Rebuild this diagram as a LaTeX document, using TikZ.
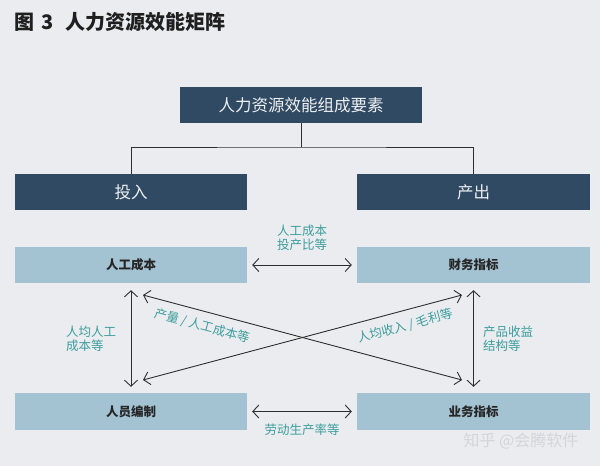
\documentclass[tikz,border=0pt]{standalone}
\usepackage{fontspec}
\setmainfont{Noto Sans CJK SC}
\usetikzlibrary{arrows.meta}
\definecolor{bg}{HTML}{EBECF0}
\definecolor{darkb}{HTML}{2F4A62}
\definecolor{lightb}{HTML}{A3C2D2}
\definecolor{teal}{HTML}{3C9E9C}
\definecolor{arrc}{HTML}{2E2E2E}
\definecolor{wm}{HTML}{D2D5DA}
\tikzset{
  darkbox/.style={fill=darkb, draw=none, text=white!92!darkb, font=\fontsize{16.5}{18}\selectfont, minimum height=36pt, inner sep=0pt},
  lightbox/.style={fill=lightb, draw=none, text=black!85, font=\fontsize{12.5}{14}\selectfont\bfseries, minimum height=36pt, minimum width=232pt, inner sep=0pt},
  lbl/.style={text=teal, font=\fontsize{12.5}{15}\selectfont, align=left, inner sep=0pt},
  arr/.style={draw=arrc, line width=0.9pt, {Straight Barb[length=6pt,width=13pt]}-{Straight Barb[length=6pt,width=13pt]}},
  conn/.style={draw=arrc, line width=0.8pt}
}
\begin{document}
\begin{tikzpicture}[x=1pt,y=-1pt]
\fill[bg] (0,0) rectangle (600,466);
\useasboundingbox (0,0) rectangle (600,466);
\node[anchor=west, inner sep=0pt, text=black!88, font=\fontsize{20}{22}\selectfont\bfseries] (title) at (14,22) {图\hspace{7pt}3\hspace{12pt}人力资源效能矩阵};
\node[darkbox, minimum width=242pt] (top) at (301,105) {人力资源效能组成要素};
\node[darkbox, minimum width=232pt] (in) at (131,192) {投入};
\node[darkbox, minimum width=233pt] (out) at (473.5,192) {产出};
\node[lightbox] (rg) at (131,265) {人工成本};
\node[lightbox, minimum width=233pt] (cw) at (473.5,265) {财务指标};
\node[lightbox, minimum height=37pt] (ry) at (131,411.5) {人员编制};
\node[lightbox, minimum width=233pt, minimum height=37pt] (yw) at (473.5,411.5) {业务指标};
\coordinate (j) at (301,147);
\draw[conn] (top.south) -- (j);
\draw[conn] (in.north) |- (j) -| (out.north);
\draw[arr, shorten <=5pt, shorten >=5pt] (rg) -- (cw);
\draw[arr, shorten <=5pt, shorten >=5pt] (ry) -- (yw);
\draw[arr, shorten <=7pt, shorten >=6pt] (rg) -- (ry);
\draw[arr, shorten <=7pt, shorten >=6pt] (cw) -- (yw);
\coordinate (ul) at (143,295);
\coordinate (ll) at (143,380);
\coordinate (ur) at (462,295);
\coordinate (lr) at (462,380);
\draw[arr] (ul) -- (lr);
\draw[arr] (ll) -- (ur);
\node[lbl, align=center] (l1) at (302,238) {人工成本\\[-1pt]投产比等};
\node[lbl] (l2) at (302,430) {劳动生产率等};
\node[lbl, anchor=west] (l3) at (66,339) {人均人工\\[-1pt]成本等};
\node[lbl, anchor=west] (l4) at (483,339) {产品收益\\[-1pt]结构等};
\node[lbl, rotate=-15] (l5) at (202,326) {产量 / 人工成本等};
\node[lbl, rotate=15] (l6) at (405,326) {人均收入 / 毛利等};
\node[anchor=center, inner sep=0pt, text=wm, font=\fontsize{16}{18}\selectfont] (wmk) at (521,441) {知乎 @会腾软件};
\end{tikzpicture}
\end{document}
